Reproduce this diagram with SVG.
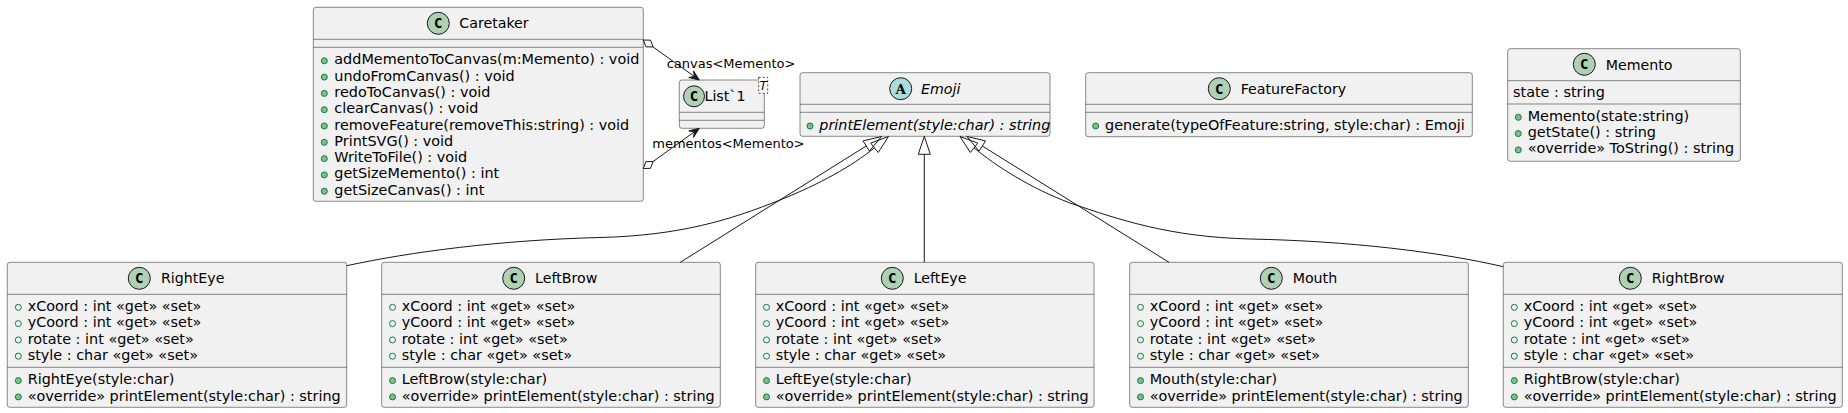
<svg xmlns="http://www.w3.org/2000/svg" width="1848" height="413" viewBox="0 0 1848 413">
<style>
.box{fill:#F1F1F1;stroke:#181818;stroke-width:0.5}
.div{stroke:#181818;stroke-width:0.5}
.t{font-family:"DejaVu Sans","Liberation Sans",sans-serif;font-size:14.4px;fill:#000}
.h{font-family:"DejaVu Sans","Liberation Sans",sans-serif;font-size:14.2px;fill:#000}
.it{font-style:italic}
.lbl{font-family:"DejaVu Sans","Liberation Sans",sans-serif;font-size:13px;fill:#000}
.cc{fill:#ADD1B2;stroke:#181818;stroke-width:1}
.ca{fill:#A9DCDF;stroke:#181818;stroke-width:1}
.cl{font-family:"DejaVu Sans Mono","Liberation Mono",monospace;font-size:14px;font-weight:bold;fill:#000;text-anchor:middle}
.pm{fill:#84BE84;stroke:#038048;stroke-width:1}
.pf{fill:none;stroke:#038048;stroke-width:1}
.ln{fill:none;stroke:#181818;stroke-width:1}
.tri{fill:none;stroke:#181818;stroke-width:1}
.ah{fill:#181818;stroke:#181818;stroke-width:1}
.dm{fill:#FFFFFF;stroke:#181818;stroke-width:1}
</style>

<g id="Caretaker">
<rect class="box" x="313.3" y="7.3" width="330" height="194" rx="2.5"/>
<line class="div" x1="313.3" y1="39.3" x2="643.3" y2="39.3"/>
<line class="div" x1="313.3" y1="47.3" x2="643.3" y2="47.3"/>
<circle class="cc" cx="438.3" cy="23.3" r="11"/>
<text class="cl" x="438.3" y="28.3">C</text>
<text class="h" x="459.3" y="28.3">Caretaker</text>
<circle class="pm" cx="324.3" cy="60.8" r="3"/><text class="t" x="334.3" y="64.3">addMementoToCanvas(m:Memento) : void</text>
<circle class="pm" cx="324.3" cy="77.1" r="3"/><text class="t" x="334.3" y="80.6">undoFromCanvas() : void</text>
<circle class="pm" cx="324.3" cy="93.4" r="3"/><text class="t" x="334.3" y="96.9">redoToCanvas() : void</text>
<circle class="pm" cx="324.3" cy="109.7" r="3"/><text class="t" x="334.3" y="113.2">clearCanvas() : void</text>
<circle class="pm" cx="324.3" cy="126" r="3"/><text class="t" x="334.3" y="129.5">removeFeature(removeThis:string) : void</text>
<circle class="pm" cx="324.3" cy="142.3" r="3"/><text class="t" x="334.3" y="145.8">PrintSVG() : void</text>
<circle class="pm" cx="324.3" cy="158.6" r="3"/><text class="t" x="334.3" y="162.1">WriteToFile() : void</text>
<circle class="pm" cx="324.3" cy="174.9" r="3"/><text class="t" x="334.3" y="178.4">getSizeMemento() : int</text>
<circle class="pm" cx="324.3" cy="191.2" r="3"/><text class="t" x="334.3" y="194.7">getSizeCanvas() : int</text>
</g>

<g id="List1">
<rect class="box" x="679.3" y="80" width="85" height="48.3" rx="2.5"/>
<line class="div" x1="679.3" y1="112.3" x2="764.3" y2="112.3"/>
<line class="div" x1="679.3" y1="120.3" x2="764.3" y2="120.3"/>
<circle class="cc" cx="694" cy="96.3" r="10.5"/>
<text class="cl" x="694" y="101.3">C</text>
<text class="h" x="704.5" y="101.3">List`1</text>
<rect x="758.7" y="77.3" width="9" height="16" fill="#FFFFFF" stroke="#181818" stroke-width="0.8" stroke-dasharray="2,2"/>
<text x="763.2" y="89.5" font-family="DejaVu Sans, sans-serif" font-size="12" font-style="italic" text-anchor="middle">T</text>
</g>

<g id="Emoji">
<rect class="box" x="800" y="72.7" width="250" height="63.6" rx="2.5"/>
<line class="div" x1="800" y1="104.3" x2="1050" y2="104.3"/>
<line class="div" x1="800" y1="112.3" x2="1050" y2="112.3"/>
<circle class="ca" cx="900.7" cy="88.7" r="11"/>
<text x="900.7" y="93.5" font-family="DejaVu Serif, Liberation Serif, serif" font-size="13.5" font-weight="bold" text-anchor="middle">A</text>
<text class="h it" x="921" y="93.7">Emoji</text>
<circle class="pm" cx="810" cy="126" r="3"/><text class="t it" x="819.3" y="129.5">printElement(style:char) : string</text>
</g>

<g id="FeatureFactory">
<rect class="box" x="1085.7" y="72.7" width="386.6" height="64" rx="2.5"/>
<line class="div" x1="1085.7" y1="104.3" x2="1472.3" y2="104.3"/>
<line class="div" x1="1085.7" y1="112.3" x2="1472.3" y2="112.3"/>
<circle class="cc" cx="1219.3" cy="88.7" r="11"/>
<text class="cl" x="1219.3" y="93.7">C</text>
<text class="h" x="1240.7" y="93.7">FeatureFactory</text>
<circle class="pm" cx="1095.7" cy="126" r="3"/><text class="t" x="1105" y="129.5">generate(typeOfFeature:string, style:char) : Emoji</text>
</g>

<g id="Memento">
<rect class="box" x="1507.7" y="48.7" width="232.6" height="112.6" rx="2.5"/>
<line class="div" x1="1507.7" y1="80.7" x2="1740.3" y2="80.7"/>
<line class="div" x1="1507.7" y1="104" x2="1740.3" y2="104"/>
<circle class="cc" cx="1584.3" cy="64.3" r="11"/>
<text class="cl" x="1584.3" y="69.3">C</text>
<text class="h" x="1605.7" y="69.7">Memento</text>
<text class="t" x="1513" y="97.2">state : string</text>
<circle class="pm" cx="1518.3" cy="117.3" r="3"/><text class="t" x="1527.7" y="120.8">Memento(state:string)</text>
<circle class="pm" cx="1518.3" cy="133.6" r="3"/><text class="t" x="1527.7" y="137.1">getState() : string</text>
<circle class="pm" cx="1518.3" cy="149.9" r="3"/><text class="t" x="1527.7" y="153.4">«override» ToString() : string</text>
</g>

<g id="RightEye">
<rect class="box" x="7.3" y="262.3" width="339.4" height="145" rx="2.5"/>
<line class="div" x1="7.3" y1="294.3" x2="346.7" y2="294.3"/>
<line class="div" x1="7.3" y1="367.3" x2="346.7" y2="367.3"/>
<circle class="cc" cx="139.3" cy="278.3" r="11"/>
<text class="cl" x="139.3" y="283.3">C</text>
<text class="h" x="161" y="283.3">RightEye</text>
<circle class="pf" cx="18.3" cy="307.3" r="3"/><text class="t" x="27.7" y="311">xCoord : int «get» «set»</text>
<circle class="pf" cx="18.3" cy="323.6" r="3"/><text class="t" x="27.7" y="327.3">yCoord : int «get» «set»</text>
<circle class="pf" cx="18.3" cy="339.9" r="3"/><text class="t" x="27.7" y="343.6">rotate : int «get» «set»</text>
<circle class="pf" cx="18.3" cy="356.2" r="3"/><text class="t" x="27.7" y="359.9">style : char «get» «set»</text>
<circle class="pm" cx="18.3" cy="380.6" r="3"/><text class="t" x="27.7" y="384.3">RightEye(style:char)</text>
<circle class="pm" cx="18.3" cy="396.9" r="3"/><text class="t" x="27.7" y="400.6">«override» printElement(style:char) : string</text>
</g>

<g id="LeftBrow">
<rect class="box" x="381.7" y="262.3" width="338.6" height="145" rx="2.5"/>
<line class="div" x1="381.7" y1="294.3" x2="720.3" y2="294.3"/>
<line class="div" x1="381.7" y1="367.3" x2="720.3" y2="367.3"/>
<circle class="cc" cx="513.7" cy="278.3" r="11"/>
<text class="cl" x="513.7" y="283.3">C</text>
<text class="h" x="535" y="283.3">LeftBrow</text>
<circle class="pf" cx="392.5" cy="307.3" r="3"/><text class="t" x="401.7" y="311">xCoord : int «get» «set»</text>
<circle class="pf" cx="392.5" cy="323.6" r="3"/><text class="t" x="401.7" y="327.3">yCoord : int «get» «set»</text>
<circle class="pf" cx="392.5" cy="339.9" r="3"/><text class="t" x="401.7" y="343.6">rotate : int «get» «set»</text>
<circle class="pf" cx="392.5" cy="356.2" r="3"/><text class="t" x="401.7" y="359.9">style : char «get» «set»</text>
<circle class="pm" cx="392.5" cy="380.6" r="3"/><text class="t" x="401.7" y="384.3">LeftBrow(style:char)</text>
<circle class="pm" cx="392.5" cy="396.9" r="3"/><text class="t" x="401.7" y="400.6">«override» printElement(style:char) : string</text>
</g>

<g id="LeftEye">
<rect class="box" x="755.7" y="262.3" width="338.3" height="145" rx="2.5"/>
<line class="div" x1="755.7" y1="294.3" x2="1094" y2="294.3"/>
<line class="div" x1="755.7" y1="367.3" x2="1094" y2="367.3"/>
<circle class="cc" cx="892.3" cy="278.3" r="11"/>
<text class="cl" x="892.3" y="283.3">C</text>
<text class="h" x="913.7" y="283.3">LeftEye</text>
<circle class="pf" cx="766.5" cy="307.3" r="3"/><text class="t" x="775.7" y="311">xCoord : int «get» «set»</text>
<circle class="pf" cx="766.5" cy="323.6" r="3"/><text class="t" x="775.7" y="327.3">yCoord : int «get» «set»</text>
<circle class="pf" cx="766.5" cy="339.9" r="3"/><text class="t" x="775.7" y="343.6">rotate : int «get» «set»</text>
<circle class="pf" cx="766.5" cy="356.2" r="3"/><text class="t" x="775.7" y="359.9">style : char «get» «set»</text>
<circle class="pm" cx="766.5" cy="380.6" r="3"/><text class="t" x="775.7" y="384.3">LeftEye(style:char)</text>
<circle class="pm" cx="766.5" cy="396.9" r="3"/><text class="t" x="775.7" y="400.6">«override» printElement(style:char) : string</text>
</g>

<g id="Mouth">
<rect class="box" x="1129.7" y="262.3" width="338.6" height="145" rx="2.5"/>
<line class="div" x1="1129.7" y1="294.3" x2="1468.3" y2="294.3"/>
<line class="div" x1="1129.7" y1="367.3" x2="1468.3" y2="367.3"/>
<circle class="cc" cx="1271.3" cy="278.3" r="11"/>
<text class="cl" x="1271.3" y="283.3">C</text>
<text class="h" x="1292.7" y="283.3">Mouth</text>
<circle class="pf" cx="1140.5" cy="307.3" r="3"/><text class="t" x="1149.7" y="311">xCoord : int «get» «set»</text>
<circle class="pf" cx="1140.5" cy="323.6" r="3"/><text class="t" x="1149.7" y="327.3">yCoord : int «get» «set»</text>
<circle class="pf" cx="1140.5" cy="339.9" r="3"/><text class="t" x="1149.7" y="343.6">rotate : int «get» «set»</text>
<circle class="pf" cx="1140.5" cy="356.2" r="3"/><text class="t" x="1149.7" y="359.9">style : char «get» «set»</text>
<circle class="pm" cx="1140.5" cy="380.6" r="3"/><text class="t" x="1149.7" y="384.3">Mouth(style:char)</text>
<circle class="pm" cx="1140.5" cy="396.9" r="3"/><text class="t" x="1149.7" y="400.6">«override» printElement(style:char) : string</text>
</g>

<g id="RightBrow">
<rect class="box" x="1503.3" y="262.3" width="339" height="145" rx="2.5"/>
<line class="div" x1="1503.3" y1="294.3" x2="1842.3" y2="294.3"/>
<line class="div" x1="1503.3" y1="367.3" x2="1842.3" y2="367.3"/>
<circle class="cc" cx="1630.3" cy="278.3" r="11"/>
<text class="cl" x="1630.3" y="283.3">C</text>
<text class="h" x="1651.7" y="283.3">RightBrow</text>
<circle class="pf" cx="1514.3" cy="307.3" r="3"/><text class="t" x="1523.7" y="311">xCoord : int «get» «set»</text>
<circle class="pf" cx="1514.3" cy="323.6" r="3"/><text class="t" x="1523.7" y="327.3">yCoord : int «get» «set»</text>
<circle class="pf" cx="1514.3" cy="339.9" r="3"/><text class="t" x="1523.7" y="343.6">rotate : int «get» «set»</text>
<circle class="pf" cx="1514.3" cy="356.2" r="3"/><text class="t" x="1523.7" y="359.9">style : char «get» «set»</text>
<circle class="pm" cx="1514.3" cy="380.6" r="3"/><text class="t" x="1523.7" y="384.3">RightBrow(style:char)</text>
<circle class="pm" cx="1514.3" cy="396.9" r="3"/><text class="t" x="1523.7" y="400.6">«override» printElement(style:char) : string</text>
</g>

<g id="connectors">
<!-- Caretaker canvas -> List`1 -->
<polygon class="dm" points="643.3,40 645.9,46.8 653.1,47 650.5,40.2"/>
<line class="ln" x1="653.1" y1="47" x2="694.4" y2="76.5"/>
<polygon class="ah" points="699.3,80 688.8,77.5 694.4,76.5 693.5,70.9"/>
<text class="lbl" x="666.7" y="68.3">canvas&lt;Memento&gt;</text>
<!-- Caretaker mementos -> List`1 -->
<polygon class="dm" points="643.3,168.5 645.9,161.7 653.1,161.5 650.5,168.3"/>
<line class="ln" x1="653.1" y1="161.5" x2="694.4" y2="131.8"/>
<polygon class="ah" points="699.3,128.3 693.5,137.4 694.4,131.8 688.8,130.9"/>
<text class="lbl" x="652.3" y="148.3">mementos&lt;Memento&gt;</text>
<!-- RightEye -> Emoji -->
<path class="ln" d="M346.7,265.7 C410,252 500,240 600,237.5 C680,235.5 730,220 780,200 C820,184 852,166 874.5,147.8"/>
<polygon class="tri" points="888.5,136.5 878.2,152.5 870.7,143.1"/>
<!-- LeftBrow -> Emoji -->
<line class="ln" x1="680.3" y1="262.3" x2="866.2" y2="146"/>
<polygon class="tri" points="881.5,136.5 869.4,151.1 863.1,140.9"/>
<!-- LeftEye -> Emoji -->
<line class="ln" x1="924.3" y1="154.3" x2="924.3" y2="262.3"/>
<polygon class="tri" points="924.3,136.3 918.3,154.3 930.3,154.3"/>
<!-- Mouth -> Emoji -->
<line class="ln" x1="1169" y1="262.3" x2="982.3" y2="146"/>
<polygon class="tri" points="967,136.5 985.5,140.9 979.1,151.1"/>
<!-- RightBrow -> Emoji -->
<path class="ln" d="M1503.3,266.7 C1440,252 1350,241 1250,239 C1170,237 1120,220 1070,203 C1030,188 996,166 974,147.8"/>
<polygon class="tri" points="960,136.5 977.8,143.1 970.3,152.5"/>
</g>
</svg>
